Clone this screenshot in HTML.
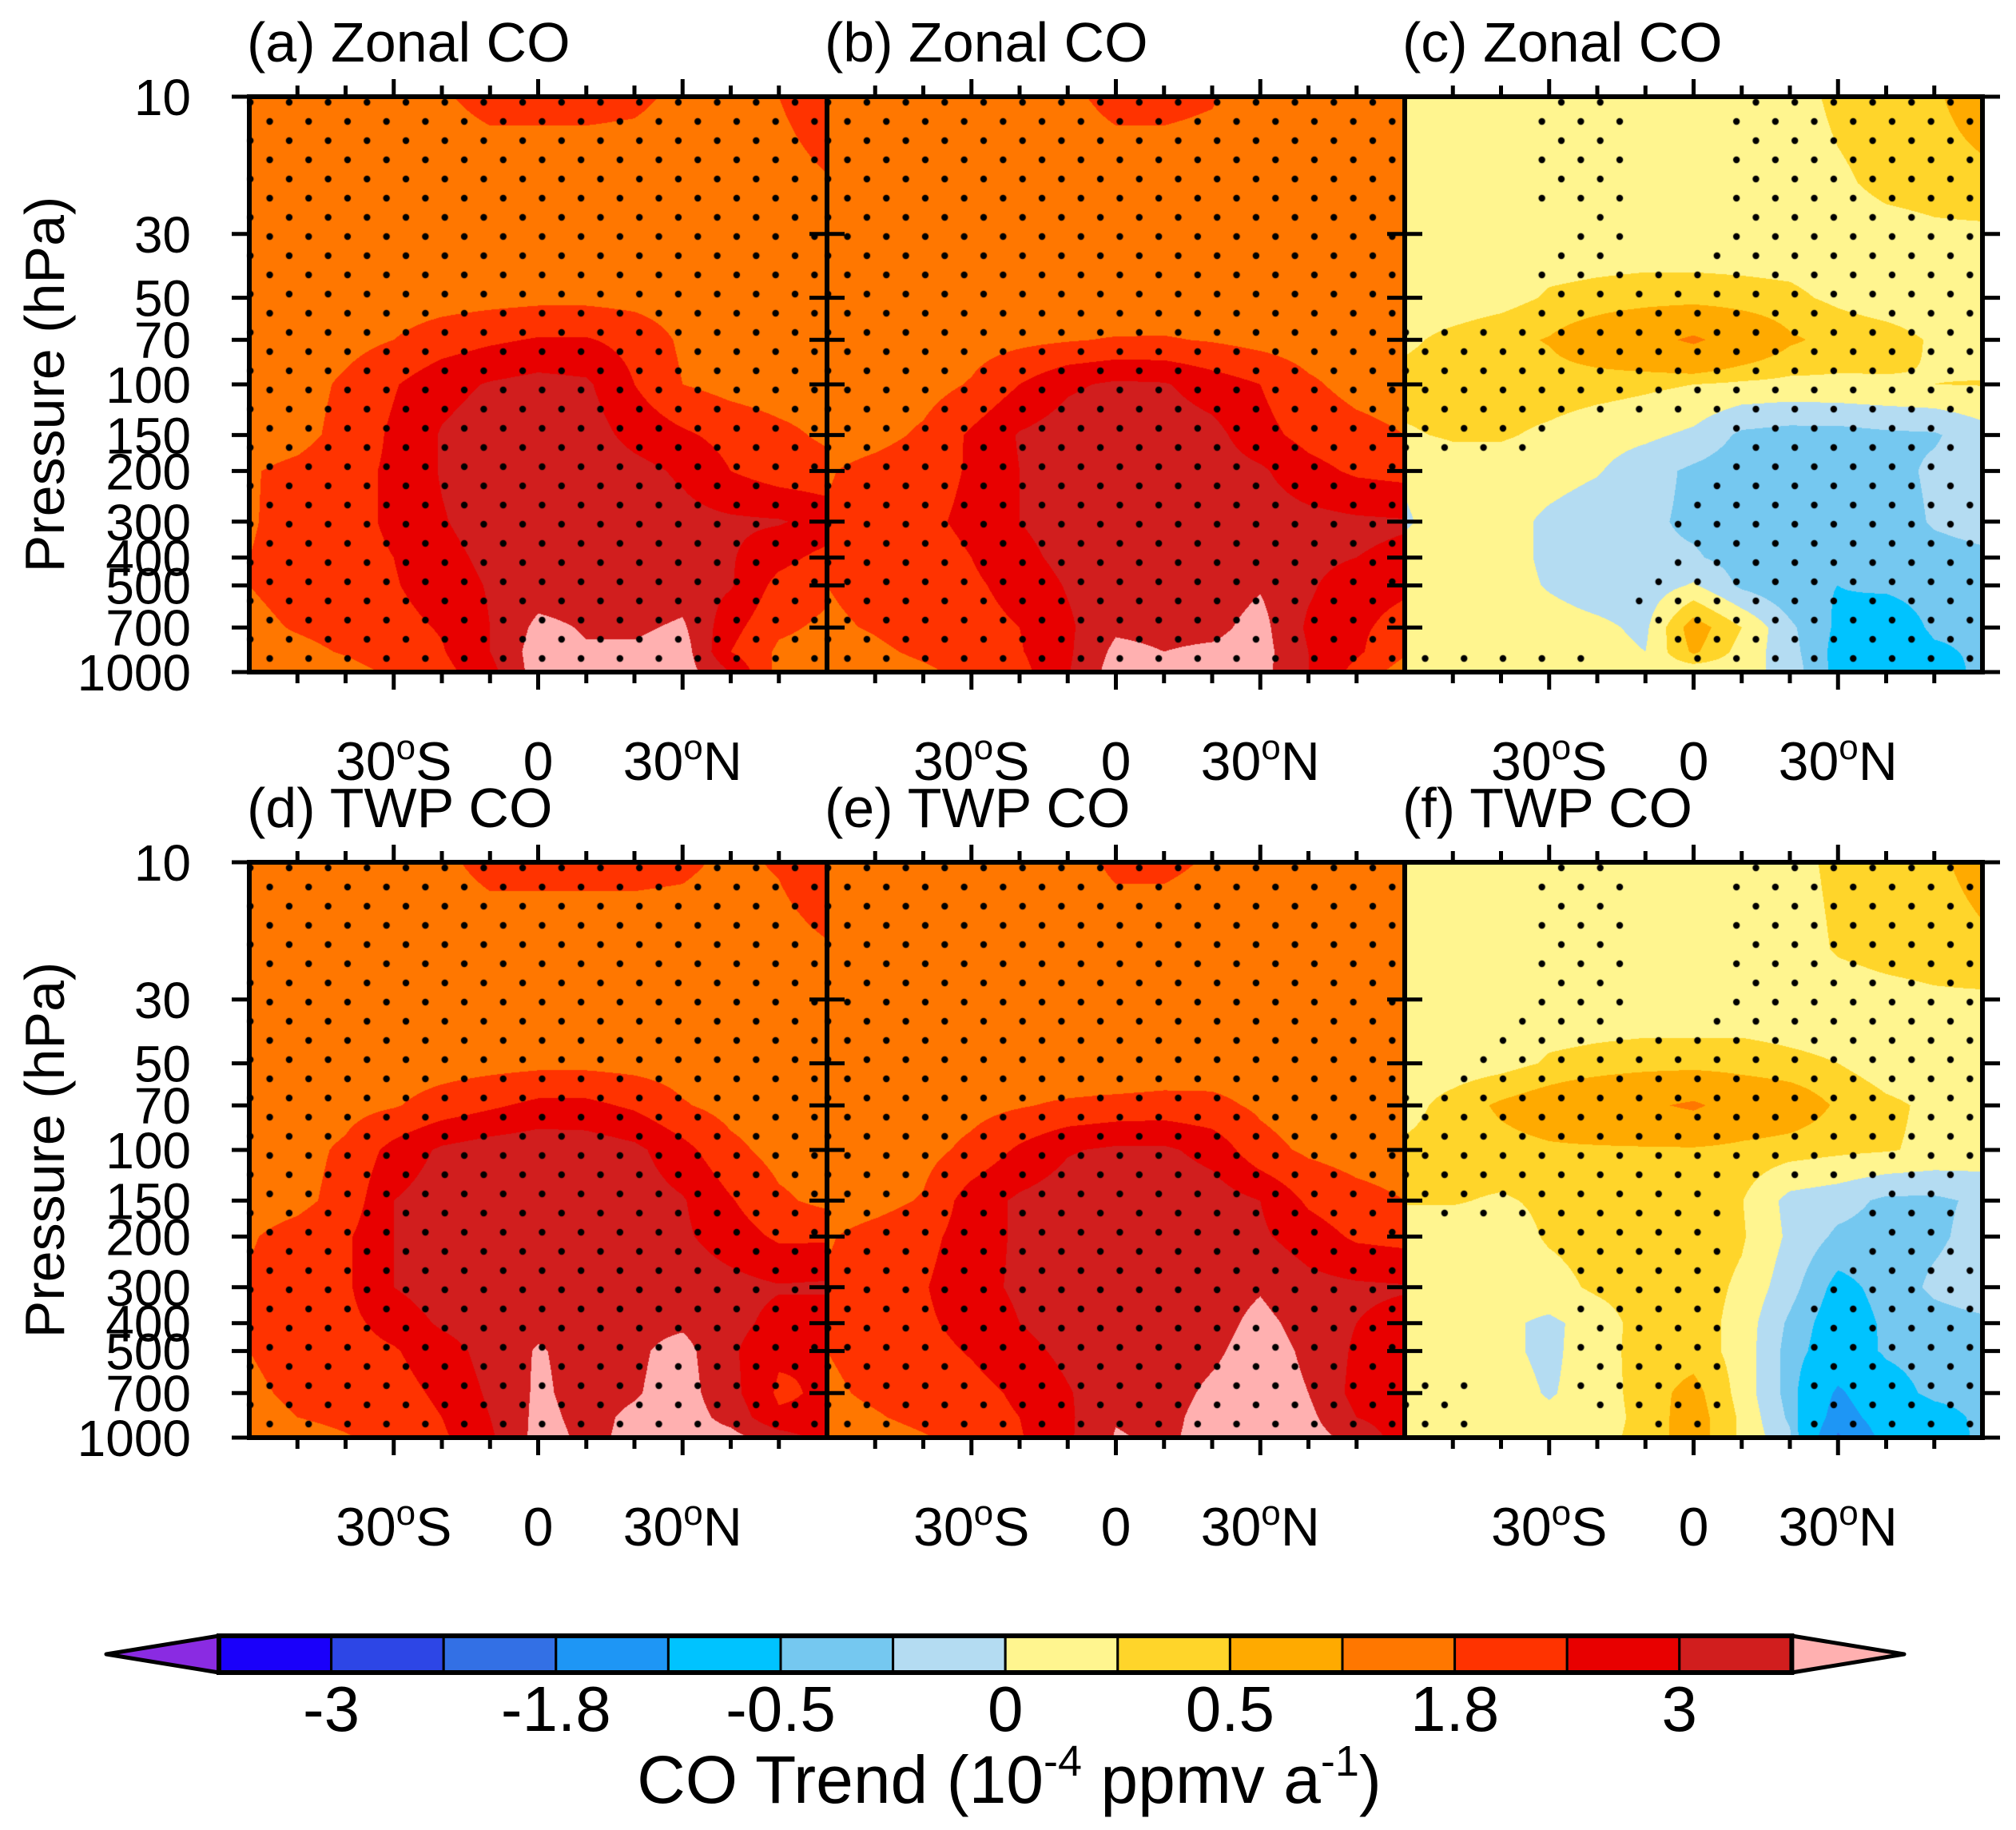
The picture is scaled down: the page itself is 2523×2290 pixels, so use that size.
<!DOCTYPE html>
<html><head><meta charset="utf-8"><style>
html,body{margin:0;padding:0;background:#fff;}
#wrap{position:relative;width:2523px;height:2290px;overflow:hidden;}
canvas,svg{position:absolute;left:0;top:0;}
text{font-family:"Liberation Sans",Arial,sans-serif;fill:#000;}
</style></head><body>
<div id="wrap">
<canvas id="cv" width="2523" height="2290"></canvas>
<svg id="sv" width="2523" height="2290" xmlns="http://www.w3.org/2000/svg"></svg>
</div>
<script>
const levels=[10,20,30,50,70,100,150,200,300,400,500,700,850,1000];
const lats=[-60,-50,-40,-30,-20,-10,0,10,20,30,40,50,60];
const fieldA=[
[1.5,1.5,1.5,1.5,1.75,1.95,1.95,1.95,1.9,1.7,1.5,1.8,2.2],
[1.5,1.5,1.5,1.5,1.5,1.5,1.5,1.5,1.5,1.5,1.5,1.55,1.75],
[1.5,1.5,1.5,1.5,1.5,1.5,1.5,1.5,1.5,1.5,1.5,1.5,1.5],
[1.5,1.5,1.5,1.5,1.55,1.6,1.65,1.65,1.6,1.5,1.5,1.5,1.5],
[1.5,1.5,1.6,1.8,2.1,2.3,2.45,2.45,2.2,1.7,1.5,1.5,1.5],
[1.5,1.55,1.9,2.35,2.8,3.05,3.2,3.1,2.4,1.8,1.6,1.5,1.5],
[1.5,1.6,2.0,2.5,3.05,3.3,3.4,3.3,2.8,2.5,2.2,1.95,1.7],
[1.75,1.95,2.2,2.5,3.05,3.4,3.5,3.4,3.2,2.9,2.4,2.1,2.0],
[1.75,2.0,2.2,2.5,2.95,3.3,3.4,3.4,3.3,3.2,3.1,3.05,2.8],
[1.8,2.0,2.2,2.4,2.8,3.15,3.3,3.2,3.0,3.1,3.05,2.6,2.2],
[1.8,2.0,2.2,2.35,2.7,3.05,3.3,3.3,3.15,3.3,3.05,2.2,1.9],
[1.65,1.85,2.0,2.2,2.45,3.0,3.75,3.55,3.5,3.7,2.6,1.9,1.7],
[1.5,1.65,1.85,2.1,2.35,3.0,3.9,3.65,3.7,3.9,2.4,1.7,1.6],
[1.5,1.5,1.6,1.9,2.2,2.8,3.9,3.9,3.9,3.9,3.0,1.6,1.5]];
const fieldB=[
[1.5,1.5,1.5,1.5,1.5,1.7,1.95,1.95,1.85,1.5,1.5,1.5,1.5],
[1.5,1.5,1.5,1.5,1.5,1.5,1.5,1.5,1.5,1.5,1.5,1.5,1.5],
[1.5,1.5,1.5,1.5,1.5,1.5,1.5,1.5,1.5,1.5,1.5,1.5,1.5],
[1.5,1.5,1.5,1.5,1.45,1.3,1.25,1.35,1.5,1.5,1.5,1.5,1.5],
[1.5,1.5,1.5,1.55,1.65,1.75,1.85,1.85,1.75,1.6,1.5,1.5,1.5],
[1.5,1.5,1.55,1.85,2.4,2.9,3.1,3.05,2.7,2.4,1.9,1.6,1.5],
[1.5,1.6,1.9,2.5,3.05,3.3,3.4,3.35,3.2,2.6,2.2,2.0,1.8],
[1.75,2.0,2.2,2.45,3.0,3.3,3.4,3.4,3.3,3.1,2.6,2.3,2.2],
[1.85,2.1,2.3,2.5,3.0,3.3,3.4,3.4,3.35,3.3,3.2,3.1,3.05],
[1.85,2.05,2.2,2.4,2.8,3.2,3.35,3.35,3.3,3.3,3.2,3.0,2.9],
[1.8,2.0,2.15,2.3,2.6,3.05,3.35,3.35,3.3,3.55,3.1,2.6,2.5],
[1.7,1.85,2.05,2.2,2.4,2.9,3.5,3.45,3.45,3.8,2.9,2.5,2.2],
[1.55,1.7,1.9,2.1,2.35,2.9,3.75,3.6,3.7,3.85,3.0,2.5,1.9],
[1.5,1.55,1.7,1.95,2.2,2.95,3.9,3.9,3.9,3.8,3.0,2.2,1.5]];
const fieldC=[
[.1,.1,.1,.1,.1,.1,.1,.1,.12,.32,.4,.45,.7],
[.1,.1,.1,.1,.1,.1,.1,.1,.1,.2,.32,.35,.4],
[.1,.1,.1,.1,.1,.1,.1,.1,.1,.1,.15,.2,.2],
[.1,.1,.15,.28,.32,.35,.35,.33,.3,.2,.12,.1,.1],
[.2,.32,.42,.52,.75,1.0,1.3,.9,.55,.4,.35,.22,.15],
[.34,.36,.37,.38,.35,.3,.25,.2,.18,.2,.22,.25,.26],
[.22,.28,.28,.2,.1,.05,-.05,-.3,-.35,-.35,-.3,-.28,-.1],
[.02,.12,.12,.1,.02,-.15,-.3,-.4,-.4,-.38,-.35,-.2,-.12],
[-.02,.08,.1,-.05,-.15,-.2,-.3,-.4,-.45,-.45,-.4,-.22,-.15],
[.05,.1,.1,-.05,-.15,-.2,-.22,-.35,-.45,-.45,-.45,-.35,-.3],
[.08,.1,.1,-.02,-.12,-.15,.03,-.3,-.45,-.5,-.45,-.4,-.4],
[.1,.1,.1,.1,.05,-.05,.65,.25,-.2,-.55,-.7,-.45,-.45],
[.1,.1,.1,.1,.08,.0,.55,.15,-.15,-.6,-.8,-.55,-.45],
[.1,.1,.1,.1,.1,.1,.05,.1,-.1,-.6,-.8,-.7,-.4]];
const fieldD=[
[1.5,1.5,1.5,1.5,1.7,1.95,1.95,1.95,1.95,1.9,1.7,1.85,2.2],
[1.5,1.5,1.5,1.5,1.5,1.5,1.5,1.5,1.5,1.5,1.5,1.6,1.75],
[1.5,1.5,1.5,1.5,1.5,1.5,1.5,1.5,1.5,1.5,1.5,1.5,1.5],
[1.5,1.5,1.5,1.5,1.55,1.6,1.65,1.65,1.6,1.55,1.5,1.5,1.5],
[1.5,1.5,1.6,1.75,2.05,2.3,2.55,2.55,2.3,1.85,1.6,1.5,1.5],
[1.5,1.6,1.9,2.6,3.1,3.3,3.4,3.35,3.15,2.6,1.95,1.6,1.5],
[1.55,1.65,2.0,3.0,3.3,3.4,3.45,3.4,3.3,3.05,2.45,1.9,1.65],
[1.75,2.0,2.3,3.0,3.3,3.4,3.45,3.4,3.35,3.1,2.7,2.3,2.3],
[1.85,2.1,2.3,3.0,3.35,3.45,3.45,3.4,3.4,3.35,3.2,3.05,3.1],
[1.85,2.05,2.25,2.6,3.1,3.4,3.45,3.4,3.45,3.5,3.2,2.8,2.6],
[1.8,2.0,2.2,2.35,2.7,3.25,3.65,3.4,3.5,3.8,3.1,2.5,2.4],
[1.7,1.9,2.05,2.2,2.5,3.1,3.7,3.4,3.55,3.85,3.2,2.3,2.5],
[1.6,1.8,1.95,2.1,2.4,3.0,3.75,3.45,3.7,3.9,3.4,2.5,2.5],
[1.5,1.55,1.75,2.0,2.3,2.9,3.8,3.5,3.7,3.9,3.8,3.3,2.8]];
const fieldE=[
[1.5,1.5,1.5,1.5,1.5,1.6,1.9,1.9,1.75,1.5,1.5,1.5,1.5],
[1.5,1.5,1.5,1.5,1.5,1.5,1.5,1.5,1.5,1.5,1.5,1.5,1.5],
[1.5,1.5,1.5,1.5,1.5,1.5,1.5,1.5,1.5,1.5,1.5,1.5,1.5],
[1.5,1.5,1.5,1.5,1.45,1.3,1.25,1.35,1.5,1.5,1.5,1.5,1.5],
[1.5,1.5,1.5,1.6,1.75,1.9,2.0,2.05,1.95,1.7,1.5,1.5,1.5],
[1.5,1.5,1.6,1.95,2.5,2.95,3.1,3.1,2.8,2.0,1.7,1.55,1.5],
[1.5,1.6,1.85,2.7,3.1,3.3,3.4,3.4,3.3,3.0,2.3,2.0,1.8],
[1.75,2.0,2.2,2.7,3.1,3.3,3.4,3.4,3.35,3.1,2.7,2.3,2.2],
[1.85,2.1,2.35,2.8,3.1,3.3,3.4,3.4,3.35,3.55,3.2,3.1,3.05],
[1.85,2.1,2.3,2.6,3.0,3.3,3.4,3.4,3.4,3.75,3.4,3.0,2.8],
[1.8,2.0,2.2,2.45,2.8,3.15,3.35,3.35,3.5,3.85,3.5,2.9,2.7],
[1.7,1.9,2.05,2.2,2.5,2.95,3.4,3.4,3.7,3.9,3.6,2.8,2.6],
[1.6,1.75,1.95,2.15,2.4,2.9,3.55,3.45,3.8,3.9,3.75,3.0,2.7],
[1.5,1.55,1.75,2.0,2.35,2.9,3.65,3.5,3.8,3.9,3.85,3.4,2.7]];
const fieldF=[
[.1,.1,.1,.1,.1,.1,.1,.1,.15,.32,.4,.45,.6],
[.1,.1,.1,.1,.1,.1,.1,.1,.1,.28,.35,.38,.45],
[.1,.1,.1,.1,.1,.1,.1,.1,.1,.1,.15,.2,.2],
[.1,.1,.15,.28,.32,.35,.35,.35,.3,.25,.12,.1,.1],
[.15,.35,.55,.7,.9,1.1,1.3,.9,.75,.45,.3,.2,.15],
[.3,.35,.4,.45,.45,.45,.45,.4,.35,.3,.27,.2,.15],
[.27,.27,.22,.3,.35,.4,.4,.26,-.08,-.15,-.3,-.3,-.2],
[.1,.12,.12,.28,.35,.4,.4,.28,-.05,-.3,-.35,-.3,-.15],
[.1,.12,.12,.15,.3,.38,.38,.2,-.15,-.6,-.4,-.2,-.1],
[.1,.12,.05,-.05,.1,.38,.38,.15,-.3,-.7,-.45,-.35,-.3],
[.1,.12,.05,-.05,.12,.38,.38,.15,-.35,-.75,-.45,-.35,-.3],
[.1,.1,.1,-.02,.1,.38,.6,.15,-.35,-1.3,-.7,-.4,-.35],
[.1,.1,.1,.05,.1,.35,.65,.2,-.3,-1.5,-.9,-.7,-.4],
[.1,.1,.1,.1,.15,.35,.65,.2,-.2,-1.9,-1.0,-.8,-.4]];
const sigC=[
[0,0,0,1,1,0,0,1,1,1,1,1,1],[0,0,0,1,1,0,0,1,1,1,1,1,1],[0,0,0,0,1,0,0,1,1,1,1,1,1],
[0,0,0,1,1,1,1,1,1,1,1,1,1],[1,1,1,1,1,1,1,1,1,1,1,1,1],[1,1,1,1,1,1,1,1,1,1,1,1,1],
[1,1,1,1,0,0,0,1,1,1,1,1,0],[0,0,0,0,0,0,0,1,1,1,1,1,0],[0,0,0,0,0,0,1,1,1,1,1,1,1],
[0,0,0,0,0,0,1,1,1,1,1,1,1],[0,0,0,0,0,1,1,1,1,1,1,1,1],[0,0,0,0,0,1,1,1,1,1,1,1,1],
[1,1,1,1,0,0,1,1,1,1,1,1,1],[1,1,1,1,1,0,1,0,1,1,1,1,1]];
const sigF=[
[0,0,0,1,1,0,0,1,1,1,1,1,1],[0,0,0,1,1,0,0,1,1,1,1,1,1],[0,0,0,1,1,0,0,1,1,1,1,1,1],
[0,0,1,1,1,1,1,1,1,1,1,1,1],[1,1,1,1,1,1,1,1,1,1,1,1,1],[1,1,1,1,1,1,1,1,1,1,1,1,1],
[0,1,1,1,1,1,1,0,0,0,1,1,0],[0,0,0,1,1,1,1,0,0,0,1,1,0],[0,0,0,0,1,1,1,0,0,1,1,1,1],
[0,0,0,0,1,1,1,0,0,1,1,1,1],[0,0,0,0,1,1,1,0,0,1,1,1,1],[1,1,0,0,1,1,1,0,0,1,1,1,1],
[1,1,0,0,0,1,1,0,0,1,1,1,1],[1,1,0,0,0,1,1,0,0,1,1,1,1]];
const cbBounds=[-3.6,-3,-2.4,-1.8,-1.2,-0.5,-0.25,0,0.25,0.5,1.2,1.8,2.4,3,3.6];
const cbColors=['#8A2BE2','#1A00FA','#2D46E6','#3370E5','#1E96F5','#00C3FF','#75C8F0','#B4DCF2','#FFF58F','#FFD52A','#FFAA00','#FF7700','#FF3300','#E80000','#D11E1E','#FFB0B0'];
const cbTickLabels=['-3','-1.8','-0.5','0','0.5','1.8','3'];
const cbTickIndex=[1,3,5,7,9,11,13];
const pTicks=[10,30,50,70,100,150,200,300,400,500,700,1000];
const latMajor=[-30,0,30];
const latMajorLabels=['30','0','30'];
const latMajorSuffix=['S','','N'];

const PW=723,PH=720;
const panels=[
 {f:fieldA,sig:null,x:312,y:121,t:'(a) Zonal CO',n:'a'},
 {f:fieldB,sig:null,x:1035,y:121,t:'(b) Zonal CO',n:'b'},
 {f:fieldC,sig:sigC,x:1758,y:121,t:'(c) Zonal CO',n:'c'},
 {f:fieldD,sig:null,x:312,y:1079,t:'(d) TWP CO',n:'d'},
 {f:fieldE,sig:null,x:1035,y:1079,t:'(e) TWP CO',n:'e'},
 {f:fieldF,sig:sigF,x:1758,y:1079,t:'(f) TWP CO',n:'f'}];
const lgl=levels.map(p=>Math.log10(p));
function xOf(P,lat){return P.x+PW*(lat+60)/120;}
function yOf(P,p){return P.y+PH*Math.log10(p/10)/2;}
function sample(F,lat,lp){
 let i=Math.floor((lat+60)/10);if(i<0)i=0;if(i>11)i=11;
 let t=(lat-lats[i])/10;
 let k=0;while(k<lgl.length-2&&lp>lgl[k+1])k++;
 let s=(lp-lgl[k])/(lgl[k+1]-lgl[k]);s=Math.max(0,Math.min(1,s));t=Math.max(0,Math.min(1,t));
 const a=F[k][i],b=F[k][i+1],c=F[k+1][i],d=F[k+1][i+1];
 return (a*(1-t)+b*t)*(1-s)+(c*(1-t)+d*t)*s;
}
function colorIdx(v){let n=0;for(const b of cbBounds){if(v>=b)n++;}return n;}
const rgb=cbColors.map(h=>[parseInt(h.slice(1,3),16),parseInt(h.slice(3,5),16),parseInt(h.slice(5,7),16)]);
const cv=document.getElementById('cv');const ctx=cv.getContext('2d');
ctx.fillStyle='#fff';ctx.fillRect(0,0,2523,2290);
for(const P of panels){
 const img=ctx.createImageData(PW,PH);
 for(let py=0;py<PH;py++){
  const lp=1+2*(py+0.5)/PH;
  for(let px=0;px<PW;px++){
   const lat=-60+120*(px+0.5)/PW;
   const c=rgb[colorIdx(sample(P.f,lat,lp))];
   const o=(py*PW+px)*4;img.data[o]=c[0];img.data[o+1]=c[1];img.data[o+2]=c[2];img.data[o+3]=255;
  }
 }
 ctx.putImageData(img,P.x,P.y);
 ctx.fillStyle='#000';
 for(let j=0;j*24+7<PH;j++){
  const dy=7+24*j;
  for(let i=0;;i++){
   const dx=1.2+48.7*i+(j%2?24.35:0);
   if(dx>PW-3)break;
   if(P.sig){
    const lat=-60+120*dx/PW,lp=1+2*dy/PH;
    if(sample(P.sig,lat,lp)<0.5)continue;
   }
   ctx.beginPath();ctx.arc(P.x+dx,P.y+dy,4.2,0,Math.PI*2);ctx.fill();
  }
 }
}
const NS='http://www.w3.org/2000/svg';const sv=document.getElementById('sv');
function mk(tag,attrs,parent,txt){const e=document.createElementNS(NS,tag);for(const k in attrs)e.setAttribute(k,attrs[k]);if(txt!==undefined)e.textContent=txt;(parent||sv).appendChild(e);return e;}
for(const P of panels){
 const g=mk('g',{});
 
 
 const bx=mk('rect',{x:P.x,y:P.y,width:PW,height:PH,fill:'none',stroke:'#000','stroke-width':6},g);
 
 
 for(let lat=-50;lat<=50;lat+=10){
  const x=xOf(P,lat);const L=(lat%30===0)?22:14;
  mk('line',{x1:x,y1:P.y,x2:x,y2:P.y-L,stroke:'#000','stroke-width':5},g);
  mk('line',{x1:x,y1:P.y+PH,x2:x,y2:P.y+PH+L,stroke:'#000','stroke-width':5},g);
 }
 for(const p of pTicks){
  const y=yOf(P,p);
  mk('line',{x1:P.x,y1:y,x2:P.x-22,y2:y,stroke:'#000','stroke-width':5},g);
  mk('line',{x1:P.x+PW,y1:y,x2:P.x+PW+22,y2:y,stroke:'#000','stroke-width':5},g);
 }
 const tt=mk('text',{x:P.x-3,y:P.y-44,'font-size':70},g,P.t);
 
 
 latMajor.forEach((lat,i)=>{
  const t=mk('text',{x:xOf(P,lat),y:P.y+855,'font-size':68,'text-anchor':'middle'},g);
  
  
  mk('tspan',{},t,latMajorLabels[i]);
  if(latMajorSuffix[i]){mk('tspan',{'font-size':44,dy:-26},t,'o');mk('tspan',{dy:26},t,latMajorSuffix[i]);}
 });
 if(P.x===312){
  pTicks.forEach(p=>{
   const t=mk('text',{x:239,y:yOf(P,p)+23,'font-size':64,'text-anchor':'end'},g,String(p));
   
   
  });
  const yt=mk('text',{x:80,y:P.y+PH/2,'font-size':70,'text-anchor':'middle',transform:'rotate(-90 80 '+(P.y+PH/2)+')'},g,'Pressure (hPa)');
  
  
 }
}
const cb=mk('g',{});


const cbX=274,cbW=140.6,cbY=2047,cbH=46,nBox=cbColors.length-2;
for(let i=0;i<nBox;i++){
 const r=mk('rect',{x:cbX+i*cbW,y:cbY,width:cbW,height:cbH,fill:cbColors[i+1],stroke:'#000','stroke-width':3},cb);
 
 
}
const xe=cbX+nBox*cbW;
const tl=mk('polygon',{points:`${cbX},${cbY} 133,${cbY+cbH/2} ${cbX},${cbY+cbH}`,fill:cbColors[0],stroke:'#000','stroke-width':5,'stroke-linejoin':'round'},cb);


const tr=mk('polygon',{points:`${xe},${cbY} 2383,${cbY+cbH/2} ${xe},${cbY+cbH}`,fill:cbColors[cbColors.length-1],stroke:'#000','stroke-width':5,'stroke-linejoin':'round'},cb);


mk('rect',{x:cbX,y:cbY,width:nBox*cbW,height:cbH,fill:'none',stroke:'#000','stroke-width':6},cb);
cbTickLabels.forEach((lab,i)=>{
 const t=mk('text',{x:cbX+cbTickIndex[i]*cbW,y:2166,'font-size':80,'text-anchor':'middle'},cb,lab);
 
 
});
const ct=mk('text',{x:1263,y:2256,'font-size':84,'text-anchor':'middle'},cb);


mk('tspan',{},ct,'CO Trend (10');mk('tspan',{'font-size':54,dy:-34},ct,'-4');mk('tspan',{dy:34},ct,' ppmv a');mk('tspan',{'font-size':54,dy:-34},ct,'-1');mk('tspan',{dy:34},ct,')');
</script>
</body></html>
